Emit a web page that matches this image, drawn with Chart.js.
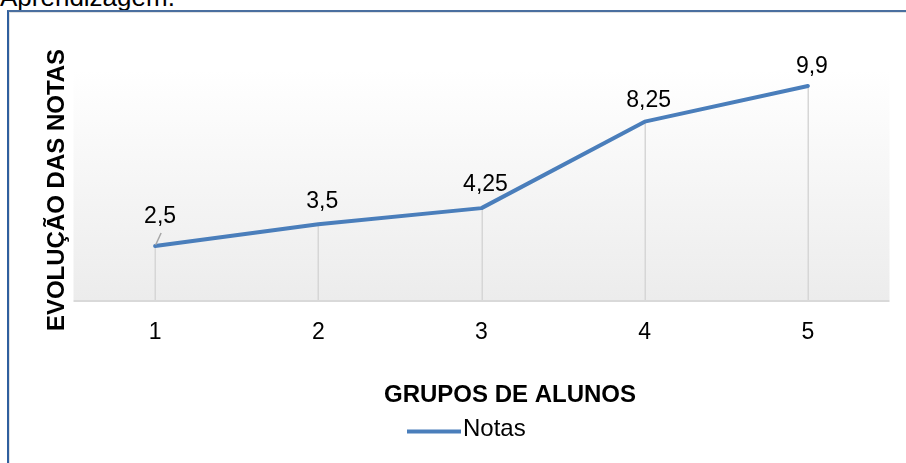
<!DOCTYPE html>
<html lang="pt">
<head>
<meta charset="utf-8">
<title>Evolução das notas</title>
<script src="https://cdn.jsdelivr.net/npm/chart.js@4.4.1/dist/chart.umd.min.js"></script>
<style>
  html, body { margin: 0; padding: 0; background: #ffffff; overflow: hidden; }
  #page { position: relative; width: 906px; height: 463px; overflow: hidden; }
  #caption {
    position: absolute; left: 0; top: -18px; margin: 0;
    font: 26px "Liberation Sans", Arial, sans-serif; color: #000; white-space: nowrap;
  }
  #frame {
    position: absolute; left: 7px; top: 10px; width: 1200px; height: 800px;
    border-left: 2px solid #2f5f9e; border-top: 2px solid #4a6f9f;
    box-shadow: inset 1px 1px 0 #e2e2e2;
  }
  #chart { position: absolute; left: 0; top: 0; }
</style>
</head>
<body>
<div id="page">
  <p id="caption">Aprendizagem.</p>
  <div id="frame"></div>
  <canvas id="chart" width="906" height="463"></canvas>
</div>
<script>
// Grupos de alunos e notas médias
const grupos = ['1', '2', '3', '4', '5'];
const notas = [2.5, 3.5, 4.25, 8.25, 9.9];
const rotulos = ['2,5', '3,5', '4,25', '8,25', '9,9'];

const tituloY = 'EVOLUÇÃO DAS NOTAS';
const tituloX = 'GRUPOS DE ALUNOS';
const nomeSerie = 'Notas';

const AZUL = '#4a7ebb';
const FONTE = '"Liberation Sans", Arial, sans-serif';

// Fundo em degradê da área de plotagem e linhas de queda até o eixo
const fundoPlugin = {
  id: 'fundo',
  beforeDatasetsDraw(chart) {
    const { ctx, chartArea: a } = chart;
    ctx.save();
    const g = ctx.createLinearGradient(0, a.top, 0, a.bottom);
    g.addColorStop(0, '#ffffff');
    g.addColorStop(1, '#ececec');
    ctx.fillStyle = g;
    ctx.fillRect(a.left, a.top, a.right - a.left, a.bottom - a.top);

    // linha do eixo horizontal
    ctx.strokeStyle = '#d9d9d9';
    ctx.lineWidth = 2;
    ctx.beginPath();
    ctx.moveTo(a.left, a.bottom + 1);
    ctx.lineTo(a.right, a.bottom + 1);
    ctx.stroke();

    // linhas de queda
    const meta = chart.getDatasetMeta(0);
    ctx.lineWidth = 1.5;
    ctx.strokeStyle = '#d6d6d6';
    meta.data.forEach(p => {
      ctx.beginPath();
      ctx.moveTo(Math.round(p.x) + 0.25, p.y);
      ctx.lineTo(Math.round(p.x) + 0.25, a.bottom);
      ctx.stroke();
    });
    ctx.restore();
  }
};

// Rótulos de dados, títulos dos eixos e legenda
const textoPlugin = {
  id: 'textos',
  afterDatasetsDraw(chart, args, opts) {
    const { ctx } = chart;
    const meta = chart.getDatasetMeta(0);
    ctx.save();
    ctx.fillStyle = '#000';
    ctx.font = '23px ' + FONTE;
    ctx.textAlign = 'center';
    ctx.textBaseline = 'alphabetic';
    meta.data.forEach((p, i) => {
      const d = opts.deslocamentos[i];
      ctx.fillText(rotulos[i], p.x + d[0], p.y + d[1]);
    });
    // linha de chamada do primeiro rótulo
    const p0 = meta.data[0];
    ctx.strokeStyle = '#a6a6a6';
    ctx.lineWidth = 1.5;
    ctx.beginPath();
    ctx.moveTo(p0.x + 6, p0.y - 13);
    ctx.lineTo(p0.x + 0.5, p0.y - 1);
    ctx.stroke();

    // título do eixo X
    ctx.font = 'bold 24px ' + FONTE;
    ctx.fillText(tituloX, 510, 401.5);

    // título do eixo Y
    ctx.save();
    ctx.translate(64, 190);
    ctx.rotate(-Math.PI / 2);
    ctx.fillText(tituloY, 0, 0);
    ctx.restore();

    // legenda
    ctx.strokeStyle = AZUL;
    ctx.lineWidth = 4;
    ctx.beginPath();
    ctx.moveTo(407, 431.5);
    ctx.lineTo(461, 431.5);
    ctx.stroke();
    ctx.font = '24px ' + FONTE;
    ctx.textAlign = 'left';
    ctx.fillText(nomeSerie, 463, 436);
    ctx.restore();
  }
};

new Chart(document.getElementById('chart'), {
  type: 'line',
  data: {
    labels: grupos,
    datasets: [{
      label: nomeSerie,
      data: notas,
      borderColor: AZUL,
      borderWidth: 4,
      pointRadius: 0,
      pointHoverRadius: 0,
      tension: 0,
      fill: false,
      borderJoinStyle: 'round',
      borderCapStyle: 'round'
    }]
  },
  options: {
    responsive: false,
    animation: false,
    devicePixelRatio: 1,
    layout: { padding: { left: 73.5, right: 16.5, top: 70, bottom: 0 } },
    plugins: {
      legend: { display: false },
      tooltip: { enabled: false },
      textos: {
        deslocamentos: [[5, -23], [4, -16], [4, -17], [4, -15], [4, -13]]
      }
    },
    scales: {
      x: {
        offset: true,
        grid: { display: false, drawTicks: false },
        border: { display: false },
        ticks: {
          color: '#000',
          font: { family: FONTE, size: 23 },
          padding: 19
        },
        afterFit(scale) { scale.height = 163; }
      },
      y: {
        display: false,
        min: 0,
        max: 10.64
      }
    }
  },
  plugins: [fundoPlugin, textoPlugin]
});
</script>
</body>
</html>
